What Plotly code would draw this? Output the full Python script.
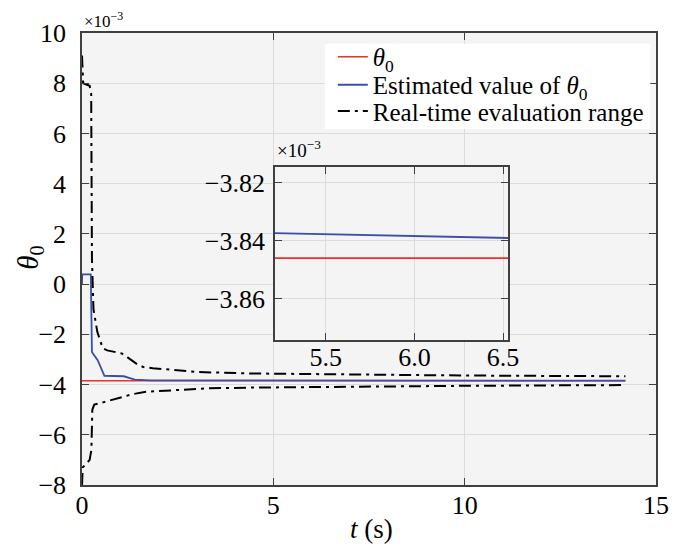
import plotly.graph_objects as go

# time (s) and values (x1e-3)
t_true = [0, 14.2]
theta_true = [-3.846, -3.846]

t_est = [0, 0.005, 0.23, 0.26, 0.29, 0.41, 0.585, 1.09, 1.38, 1.8, 2.5, 4.0, 5.2, 6.0, 6.55, 10.0, 14.2]
theta_est = [0.0, 0.39, 0.39, -2.7, -2.77, -3.03, -3.65, -3.67, -3.80, -3.83, -3.835, -3.836,
             -3.8374, -3.8383, -3.8391, -3.842, -3.844]

t_upper = [0, 0.03, 0.2, 0.24, 0.26, 0.30, 0.40, 0.54, 0.66, 0.9, 1.04, 1.2, 1.45, 1.6, 1.85,
           2.36, 3.0, 4.5, 7.0, 10.0, 14.2]
upper = [9.1, 8.0, 7.9, 7.6, 1.0, -1.0, -1.9, -2.55, -2.64, -2.7, -2.76, -2.93, -3.2, -3.3, -3.35,
         -3.41, -3.5, -3.56, -3.61, -3.64, -3.67]

t_lower = [0, 0.02, 0.2, 0.245, 0.27, 0.32, 0.57, 0.91, 1.33, 1.67, 2.43, 3.27, 4.5, 7.0, 10.0, 14.2]
lower = [-8.0, -7.3, -7.0, -6.6, -5.0, -4.8, -4.7, -4.57, -4.38, -4.29, -4.21, -4.15, -4.12, -4.08,
         -4.05, -4.02]

main_yticks = [10, 8, 6, 4, 2, 0, -2, -4, -6, -8]
main_yticktext = ["10", "8", "6", "4", "2", "0", "−2", "−4", "−6", "−8"]
main_xticks = [0, 5, 10, 15]

inset_xticks = [5.5, 6.0, 6.5]
inset_xticktext = ["5.5", "6.0", "6.5"]
inset_yticks = [-3.82, -3.84, -3.86]
inset_yticktext = ["−3.82", "−3.84", "−3.86"]

FONT = "Liberation Serif, Times New Roman, serif"
FRAME = "#404040"
GRID = "#dcdcdc"

fig = go.Figure()

# each legend row is its own legend so the rows can sit as close as in the original
fig.add_trace(go.Scatter(x=t_true, y=theta_true, mode="lines", legend="legend",
                         name="<i>θ</i><sub>0</sub>",
                         line=dict(color="#e8312a", width=1.6)))
fig.add_trace(go.Scatter(x=t_est, y=theta_est, mode="lines", legend="legend2",
                         name="Estimated value of <i>θ</i><sub>0</sub>",
                         line=dict(color="#3a4fa8", width=1.8)))
# upper and lower bound in one trace so there is only one legend entry
fig.add_trace(go.Scatter(x=t_upper + [None] + t_lower, y=upper + [None] + lower, mode="lines",
                         legend="legend3", name="Real-time evaluation range",
                         line=dict(color="black", width=2, dash="12px,5px,3px,5px")))

# inset (zoomed view)
fig.add_trace(go.Scatter(x=t_true, y=theta_true, mode="lines", xaxis="x2", yaxis="y2",
                         showlegend=False, line=dict(color="#e8312a", width=1.8)))
fig.add_trace(go.Scatter(x=t_est, y=theta_est, mode="lines", xaxis="x2", yaxis="y2",
                         showlegend=False, line=dict(color="#3a4fa8", width=1.8)))

axis_common = dict(
    showline=True, linecolor=FRAME, linewidth=1.5, mirror="ticks",
    ticks="inside", ticklen=7, tickcolor=FRAME, tickwidth=1.3,
    showgrid=True, gridcolor=GRID, gridwidth=1, zeroline=False,
    ticklabeloverflow="allow",
    tickfont=dict(family=FONT, size=26, color="black"),
)

legend_common = dict(xanchor="left", yanchor="middle", bgcolor="rgba(0,0,0,0)", borderwidth=0,
                     font=dict(family=FONT, size=25, color="black"))

# the page body has an 8px margin, so the figure is 8px smaller than the window
fig.update_layout(
    width=672, height=542,
    margin=dict(l=74, r=12, t=11, b=65),
    paper_bgcolor="white",
    plot_bgcolor="#f4f4f4",
    font=dict(family=FONT, color="black"),
    xaxis=dict(range=[0, 15], tickvals=main_xticks, ticklabelstandoff=-4, **axis_common),
    yaxis=dict(range=[-8, 10], tickvals=main_yticks, ticktext=main_yticktext,
               ticklabelstandoff=9, **axis_common),
    xaxis2=dict(domain=[0.3362, 0.7423], anchor="y2", range=[5.213, 6.528],
                tickvals=inset_xticks, ticktext=inset_xticktext, ticklabelstandoff=-6, **axis_common),
    yaxis2=dict(domain=[0.3219, 0.7039], anchor="x2", range=[-3.874, -3.8146],
                tickvals=inset_yticks, ticktext=inset_yticktext, ticklabelstandoff=3, **axis_common),
    showlegend=True,
    legend=dict(x=0.437, y=0.947, **legend_common),
    legend2=dict(x=0.437, y=0.885, **legend_common),
    legend3=dict(x=0.437, y=0.827, **legend_common),
)

# white background for the inset plot area
fig.add_shape(type="rect", xref="x2 domain", yref="y2 domain", x0=0, x1=1, y0=0, y1=1,
              fillcolor="white", line=dict(width=0), layer="below")
# white legend box
fig.add_shape(type="rect", xref="paper", yref="paper", x0=0.423, x1=0.99, y0=0.7876, y1=0.9764,
              fillcolor="white", line=dict(width=0), layer="above")

fig.add_annotation(text="<i>t</i> (s)", xref="paper", yref="paper", x=0.505, y=-0.0966,
                   xanchor="center", yanchor="middle", showarrow=False,
                   font=dict(family=FONT, size=27, color="black"))
fig.add_annotation(text="<i>θ</i><sub>0</sub>", xref="paper", yref="paper", x=-0.1246, y=0.504,
                   xanchor="left", yanchor="middle", textangle=-90, showarrow=False,
                   font=dict(family=FONT, size=29, color="black"))
fig.add_annotation(text="×10<sup>−3</sup>", xref="paper", yref="paper", x=0.0, y=1.0,
                   xanchor="left", yanchor="bottom", showarrow=False,
                   font=dict(family=FONT, size=17, color="black"))
fig.add_annotation(text="×10<sup>−3</sup>", xref="paper", yref="paper", x=0.3362, y=0.7124,
                   xanchor="left", yanchor="bottom", showarrow=False,
                   font=dict(family=FONT, size=19, color="black"))

fig.write_html("out.html")
